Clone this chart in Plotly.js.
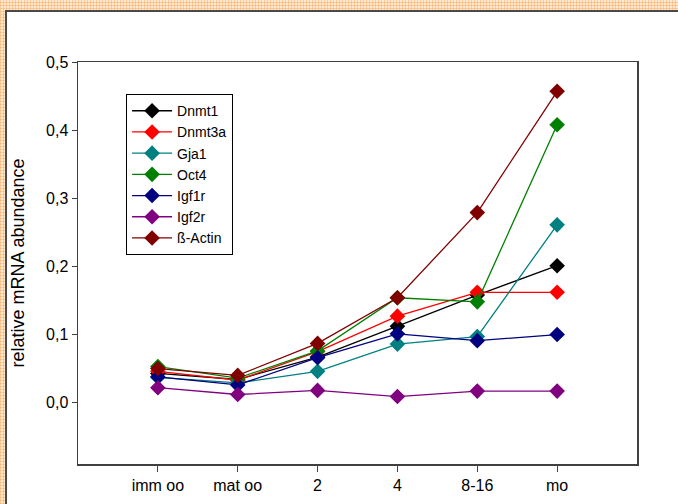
<!DOCTYPE html>
<html>
<head>
<meta charset="utf-8">
<script src="https://cdn.plot.ly/plotly-3.0.1.min.js"></script>
<style>
html,body{margin:0;padding:0;width:678px;height:504px;overflow:hidden;}
body{
  background-color:#fde9d2;
  background-image:
    repeating-linear-gradient(90deg, rgba(248,180,110,0.6) 0 1px, transparent 1px 3px),
    repeating-linear-gradient(0deg, rgba(248,180,110,0.6) 0 1px, transparent 1px 3px);
}
#frame{position:absolute;left:5px;top:10px;width:673px;height:494px;background:#fff;
  border-left:2px solid #4a4a4a;border-top:2px solid #4a4a4a;box-sizing:border-box;}
#chart{position:absolute;left:0;top:0;width:678px;height:504px;}
</style>
</head>
<body>
<div id="frame"></div>
<div id="chart"></div>
<script>
const categories = ["imm oo", "mat oo", "2", "4", "8-16", "mo"];
const seriesNames = ["Dnmt1", "Dnmt3a", "Gja1", "Oct4", "Igf1r", "Igf2r", "ß-Actin"];
const dnmt1  = [0.043, 0.034, 0.067, 0.112, 0.158, 0.201];
const dnmt3a = [0.046, 0.033, 0.075, 0.127, 0.162, 0.162];
const gja1   = [0.037, 0.029, 0.046, 0.086, 0.097, 0.261];
const oct4   = [0.053, 0.036, 0.076, 0.154, 0.148, 0.408];
const igf1r  = [0.038, 0.026, 0.066, 0.101, 0.091, 0.100];
const igf2r  = [0.022, 0.012, 0.018, 0.009, 0.017, 0.017];
const actin  = [0.050, 0.040, 0.087, 0.154, 0.279, 0.457];
const yTickVals = [0.0, 0.1, 0.2, 0.3, 0.4, 0.5];

const seriesValues = [dnmt1, dnmt3a, gja1, oct4, igf1r, igf2r, actin];
const colors = ["#000000", "#ff0000", "#008080", "#008000", "#000080", "#800080", "#800000"];

const traces = seriesNames.map((name, i) => ({
  type: "scatter",
  mode: "lines+markers",
  name: name,
  x: categories,
  y: seriesValues[i],
  line: {color: colors[i], width: 1.3},
  marker: {symbol: "diamond", size: 12, color: colors[i]}
}));

const layout = {
  width: 678,
  height: 504,
  paper_bgcolor: "rgba(0,0,0,0)",
  plot_bgcolor: "#ffffff",
  separators: ",.",
  margin: {l: 78, r: 41, t: 62, b: 40},
  font: {family: "Liberation Sans, Arial, sans-serif", size: 16, color: "#000"},
  showlegend: true,
  legend: {
    x: 0.086, y: 0.92, xanchor: "left", yanchor: "top",
    bgcolor: "#ffffff", bordercolor: "#000000", borderwidth: 1,
    font: {family: "Liberation Sans, Arial, sans-serif", size: 14, color: "#000"},
    tracegroupgap: 0, itemwidth: 40
  },
  xaxis: {
    type: "category",
    range: [-1, 6],
    showline: true, mirror: true, linecolor: "#404040", linewidth: 1.5,
    ticks: "outside", ticklen: 6, tickcolor: "#404040", tickwidth: 1,
    showgrid: false, zeroline: false,
    tickfont: {size: 16}
  },
  yaxis: {
    range: [-0.09, 0.5],
    tickvals: yTickVals,
    tickformat: ".1f",
    showline: true, mirror: true, linecolor: "#404040", linewidth: 1.5,
    ticks: "outside", ticklen: 5, tickcolor: "#404040", tickwidth: 1,
    showgrid: false, zeroline: false,
    tickfont: {size: 16},
    title: {text: "relative mRNA abundance", font: {size: 18}, standoff: 16}
  }
};

Plotly.newPlot("chart", traces, layout, {staticPlot: true});
</script>
</body>
</html>
